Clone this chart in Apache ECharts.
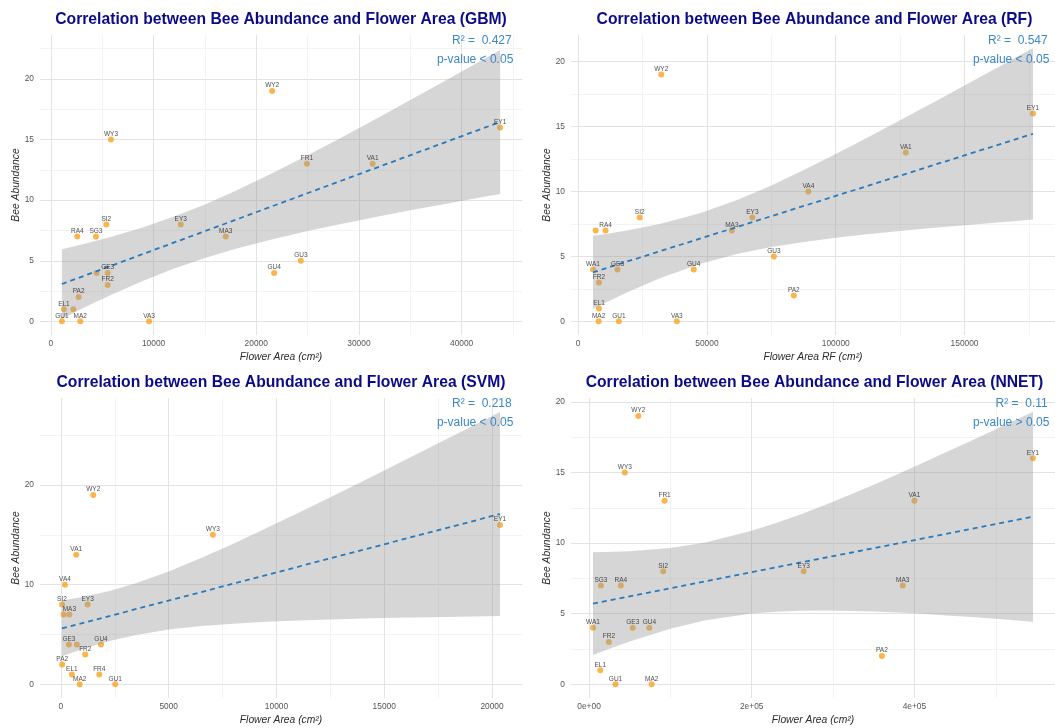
<!DOCTYPE html>
<html>
<head>
<meta charset="utf-8">
<title>Bee Abundance vs Flower Area</title>
<script src="https://cdn.jsdelivr.net/npm/echarts@6.0.0/dist/echarts.min.js"></script>
<style>
  html, body { margin: 0; padding: 0; background: #fff; }
  #chart { width: 1055px; height: 728px; }
</style>
</head>
<body>
<div id="chart"></div>
<script>
// GBM model
const gbmSites = ['WY2', 'WY3', 'EY1', 'FR1', 'VA1', 'SI2', 'EY3', 'RA4', 'SG3', 'MA3', 'GU3', 'GU4', 'GE3', 'WA1', 'FR2', 'PA2', 'EL1', 'FR4', 'GU1', 'MA2', 'VA3']
const gbmArea = [21550, 5850, 43750, 24930, 31330, 5400, 12640, 2570, 4390, 17030, 24340, 21740, 5530, 4450, 5530, 2700, 1270, 2180, 1070, 2860, 9560]
const gbmBees = [19, 15, 16, 13, 13, 8, 8, 7, 7, 7, 5, 4, 4, 4, 3, 2, 1, 1, 0, 0, 0]
const gbmHidden = ['WA1', 'FR4'] // labels dropped by overlap check
const gbmFitX = [1070, 43750]
const gbmFitY = [3.08, 16.45]
const gbmBandX = [1070, 3500, 6000, 9000, 11940, 15000, 18000, 21500, 25000, 28500, 32000, 35000, 38000, 41000, 43750]
const gbmBandLo = [0.22, 1.24, 2.24, 3.36, 4.34, 5.23, 5.99, 6.76, 7.45, 8.08, 8.67, 9.16, 9.63, 10.09, 10.51]
const gbmBandHi = [5.94, 6.44, 7.00, 7.77, 8.63, 9.65, 10.77, 12.20, 13.71, 15.26, 16.87, 18.26, 19.67, 21.09, 22.39]

// RF model
const rfSites = ['WY2', 'EY1', 'VA1', 'VA4', 'SI2', 'EY3', 'MA3', 'RA4', 'SG3', 'GU3', 'WA1', 'GE3', 'GU4', 'FR2', 'PA2', 'EL1', 'MA2', 'GU1', 'VA3']
const rfArea = [32280, 176570, 127190, 89380, 23920, 67640, 59670, 10670, 6820, 76000, 5790, 15300, 44880, 8100, 83720, 8100, 7970, 15820, 38320]
const rfBees = [19, 16, 13, 10, 8, 8, 7, 7, 7, 5, 4, 4, 4, 3, 2, 1, 0, 0, 0]
const rfHidden = ['SG3']
const rfFitX = [5790, 176570]
const rfFitY = [3.78, 14.44]
const rfBandX = [5790, 12000, 20000, 32000, 47270, 62000, 75000, 87000, 100000, 112000, 125000, 137000, 150000, 163000, 176570]
const rfBandLo = [0.97, 1.57, 2.31, 3.33, 4.42, 5.21, 5.73, 6.10, 6.43, 6.70, 6.96, 7.18, 7.41, 7.62, 7.84]
const rfBandHi = [6.59, 6.77, 7.03, 7.51, 8.32, 9.37, 10.47, 11.60, 12.89, 14.12, 15.48, 16.76, 18.16, 19.56, 21.04]

// SVM model
const svmSites = ['WY2', 'WY3', 'EY1', 'VA1', 'VA4', 'SI2', 'EY3', 'MA3', 'RA4', 'GE3', 'WA1', 'GU4', 'FR2', 'PA2', 'EL1', 'FR4', 'MA2', 'GU1']
const svmArea = [1500, 7050, 20370, 710, 190, 50, 1240, 390, 120, 370, 740, 1860, 1130, 60, 510, 1780, 870, 2520]
const svmBees = [19, 15, 16, 13, 10, 8, 8, 7, 7, 4, 4, 4, 3, 2, 1, 1, 0, 0]
const svmHidden = ['RA4', 'WA1']
const svmFitX = [50, 20370]
const svmFitY = [5.61, 17.09]
const svmBandX = [50, 1000, 2300, 3500, 5000, 6500, 8000, 9500, 11000, 12500, 14000, 15500, 17000, 18500, 20370]
const svmBandLo = [2.81, 3.54, 4.38, 4.96, 5.51, 5.85, 6.09, 6.27, 6.40, 6.51, 6.60, 6.68, 6.73, 6.79, 6.86]
const svmBandHi = [8.41, 8.76, 9.40, 10.16, 11.33, 12.67, 14.11, 15.63, 17.19, 18.77, 20.38, 22.01, 23.63, 25.27, 27.32]

// NNET model
const nnSites = ['WY2', 'WY3', 'FR1', 'EY1', 'VA1', 'SI2', 'EY3', 'SG3', 'RA4', 'MA3', 'WA1', 'GE3', 'GU4', 'FR2', 'PA2', 'EL1', 'GU1', 'MA2']
const nnArea = [60690, 43990, 92860, 545780, 399970, 91240, 263930, 14660, 39100, 385710, 4890, 53760, 74130, 24440, 360050, 13850, 32580, 76980]
const nnBees = [19, 15, 13, 16, 13, 8, 8, 7, 7, 7, 4, 4, 4, 3, 2, 1, 0, 0]
const nnHidden = []
const nnFitX = [4890, 545780]
const nnFitY = [5.72, 11.87]
const nnBandX = [4890, 20000, 50000, 100000, 143260, 200000, 230000, 260000, 290000, 320000, 350000, 380000, 410000, 440000, 470000, 500000, 545780]
const nnBandLo = [2.08, 2.41, 3.04, 3.94, 4.53, 5.01, 5.14, 5.21, 5.23, 5.20, 5.15, 5.08, 4.99, 4.88, 4.77, 4.64, 4.44]
const nnBandHi = [9.36, 9.37, 9.42, 9.66, 10.05, 10.87, 11.42, 12.03, 12.70, 13.40, 14.13, 14.89, 15.67, 16.46, 17.25, 18.06, 19.30]

const FONT = '"Liberation Sans", Arial, sans-serif'

// 0e+00, 2e+05 ... like R's scientific labels
function sciLabel(v) {
  if (v === 0) return '0e+00'
  const e = Math.floor(Math.log10(Math.abs(v)))
  const m = Math.round(v / Math.pow(10, e))
  return m + 'e+' + String(e).padStart(2, '0')
}

const panels = [
  {
    model: 'GBM', sites: gbmSites, area: gbmArea, bees: gbmBees, hidden: gbmHidden,
    fitX: gbmFitX, fitY: gbmFitY, bandX: gbmBandX, bandLo: gbmBandLo, bandHi: gbmBandHi,
    r2: 'R² =  0.427', pv: 'p-value < 0.05', xName: 'Flower Area (cm²)',
    box: { left: 40, top: 35, width: 482, height: 300 },
    xMin: -1061, xMax: 45879, xStep: 10000, yMin: -1.125, yMax: 23.625, yStep: 5
  },
  {
    model: 'RF', sites: rfSites, area: rfArea, bees: rfBees, hidden: rfHidden,
    fitX: rfFitX, fitY: rfFitY, bandX: rfBandX, bandLo: rfBandLo, bandHi: rfBandHi,
    r2: 'R² =  0.547', pv: 'p-value < 0.05', xName: 'Flower Area RF (cm²)',
    box: { left: 571, top: 35, width: 487, height: 300 },
    xMin: -2752, xMax: 185107, xStep: 50000, yMin: -1.05, yMax: 22.05, yStep: 5
  },
  {
    model: 'SVM', sites: svmSites, area: svmArea, bees: svmBees, hidden: svmHidden,
    fitX: svmFitX, fitY: svmFitY, bandX: svmBandX, bandLo: svmBandLo, bandHi: svmBandHi,
    r2: 'R² =  0.218', pv: 'p-value < 0.05', xName: 'Flower Area (cm²)',
    box: { left: 40, top: 398, width: 482, height: 300 },
    xMin: -970, xMax: 21390, xStep: 5000, yMin: -1.37, yMax: 28.73, yStep: 10
  },
  {
    model: 'NNET', sites: nnSites, area: nnArea, bees: nnBees, hidden: nnHidden,
    fitX: nnFitX, fitY: nnFitY, bandX: nnBandX, bandLo: nnBandLo, bandHi: nnBandHi,
    r2: 'R² =  0.11', pv: 'p-value > 0.05', xName: 'Flower Area (cm²)',
    box: { left: 571, top: 398, width: 487, height: 300 },
    xMin: -22157, xMax: 572827, xStep: 200000, yMin: -0.965, yMax: 20.27, yStep: 5,
    xFmt: sciLabel
  }
]

const chart = echarts.init(document.getElementById('chart'))

const option = {
  animation: false,
  backgroundColor: '#ffffff',
  textStyle: { fontFamily: FONT },
  grid: [],
  xAxis: [],
  yAxis: [],
  series: [],
  graphic: []
}

function axisCommon(step) {
  return {
    type: 'value',
    splitNumber: 5,
    minInterval: step,
    maxInterval: step,
    axisLine: { show: false },
    axisTick: { show: false },
    splitLine: {
      show: true, showMinLine: false, showMaxLine: false,
      lineStyle: { color: '#e3e3e3', width: 1 }
    },
    minorTick: { show: false, splitNumber: 2 },
    minorSplitLine: { show: true, lineStyle: { color: '#eeeeee', width: 0.7 } },
    nameLocation: 'middle',
    nameTextStyle: { fontStyle: 'italic', fontSize: 10.3, color: '#2b2b2b', fontFamily: FONT }
  }
}

panels.forEach((p, i) => {
  option.grid.push(Object.assign({ containLabel: false }, p.box))

  option.xAxis.push(Object.assign(axisCommon(p.xStep), {
    gridIndex: i,
    min: p.xMin,
    max: p.xMax,
    name: p.xName,
    nameGap: 17,
    axisLabel: {
      color: '#555', fontSize: 8.4, margin: 5, fontFamily: FONT,
      showMinLabel: false, showMaxLabel: false,
      formatter: p.xFmt || (v => String(v))
    }
  }))

  option.yAxis.push(Object.assign(axisCommon(p.yStep), {
    gridIndex: i,
    min: p.yMin,
    max: p.yMax,
    name: 'Bee Abundance',
    nameGap: 19,
    nameRotate: 90,
    axisLabel: {
      color: '#555', fontSize: 8.4, margin: 6, fontFamily: FONT,
      showMinLabel: false, showMaxLabel: false,
      formatter: v => String(v)
    }
  }))

  const pts = p.sites.map((s, j) => ({ name: s, value: [p.area[j], p.bees[j]] }))

  // points (under the confidence band)
  option.series.push({
    type: 'scatter',
    xAxisIndex: i, yAxisIndex: i,
    z: 2, silent: true,
    symbolSize: 6,
    itemStyle: { color: '#F9A31F' },
    data: pts
  })

  // confidence band
  option.series.push({
    type: 'custom',
    xAxisIndex: i, yAxisIndex: i,
    z: 3, silent: true,
    clip: true,
    data: p.bandX.map((x, k) => [x, p.bandLo[k], p.bandHi[k]]),
    encode: { x: 0, y: [1, 2] },
    renderItem: (params, api) => {
      if (params.dataIndex !== 0) return null
      const poly = []
      p.bandX.forEach((x, k) => poly.push(api.coord([x, p.bandHi[k]])))
      for (let k = p.bandX.length - 1; k >= 0; k--) poly.push(api.coord([p.bandX[k], p.bandLo[k]]))
      return { type: 'polygon', shape: { points: poly }, style: { fill: 'rgba(153,153,153,0.4)' } }
    }
  })

  // fitted line
  option.series.push({
    type: 'line',
    xAxisIndex: i, yAxisIndex: i,
    z: 4, silent: true,
    showSymbol: false,
    lineStyle: { color: '#2a79bb', width: 1.8, type: [5, 4] },
    data: p.fitX.map((x, k) => [x, p.fitY[k]])
  })

  // site labels on top
  option.series.push({
    type: 'scatter',
    xAxisIndex: i, yAxisIndex: i,
    z: 5, silent: true,
    symbolSize: 6,
    itemStyle: { color: 'rgba(0,0,0,0)' },
    label: {
      show: true, position: 'top', distance: -1,
      fontSize: 6.5, color: '#222', fontFamily: FONT,
      formatter: d => d.name
    },
    data: pts.map(d => p.hidden.includes(d.name) ? Object.assign({}, d, { label: { show: false } }) : d)
  })

  const cx = p.box.left + p.box.width / 2
  const right = p.box.left + p.box.width
  option.graphic.push({
    type: 'text', silent: true, z: 20,
    x: cx, y: p.box.top - 15.8,
    style: {
      text: 'Correlation between Bee Abundance and Flower Area (' + p.model + ')',
      font: 'bold 15.7px ' + FONT, fill: '#0b0b87', align: 'center', verticalAlign: 'middle'
    }
  })
  option.graphic.push({
    type: 'text', silent: true, z: 20,
    x: right - 10.3, y: p.box.top + 6,
    style: { text: p.r2, font: '12px ' + FONT, fill: '#3b87c9', align: 'right', verticalAlign: 'middle' }
  })
  option.graphic.push({
    type: 'text', silent: true, z: 20,
    x: right - 8.7, y: p.box.top + 24.2,
    style: { text: p.pv, font: '12px ' + FONT, fill: '#3b87c9', align: 'right', verticalAlign: 'middle' }
  })
})

chart.setOption(option)
window.addEventListener('resize', () => chart.resize())
</script>
</body>
</html>
